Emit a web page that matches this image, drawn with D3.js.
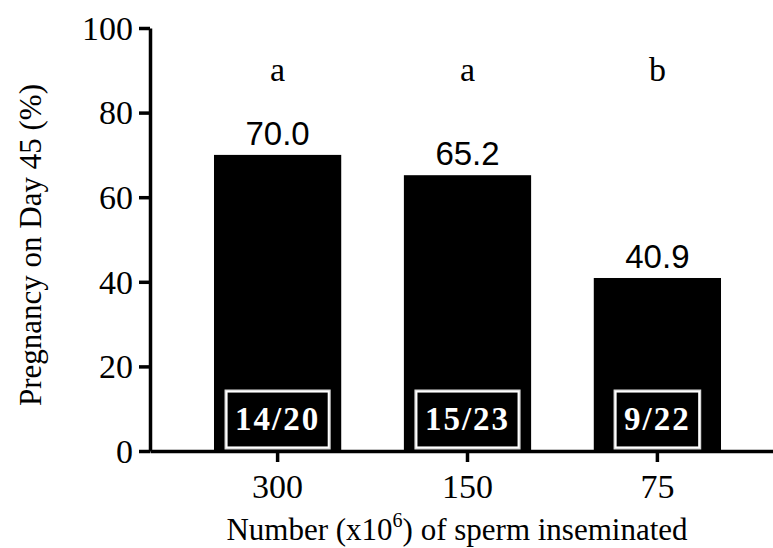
<!DOCTYPE html>
<html>
<head>
<meta charset="utf-8">
<script src="https://cdn.jsdelivr.net/npm/d3@7"></script>
<style>
  body { margin: 0; background: #fff; }
  svg { display: block; }
</style>
</head>
<body>
<svg id="chart" width="773" height="548"></svg>
<script>
// chart values
const groups = ['300', '150', '75'];
const pregnancy = [70.0, 65.2, 40.9];
const letters = ['a', 'a', 'b'];
const counts = ['14/20', '15/23', '9/22'];
const yTicks = [0, 20, 40, 60, 80, 100];

const serif = '"Liberation Serif", "Times New Roman", serif';
const sans = '"Liberation Sans", Arial, sans-serif';

const svg = d3.select('#chart');

const xScale = d3.scaleBand()
    .domain(groups)
    .range([150, 785])
    .paddingInner(0.33)
    .paddingOuter(0.337);

const yScale = d3.scaleLinear()
    .domain([0, 100])
    .range([451, 28]);

// bars
svg.append('g')
    .selectAll('rect')
    .data(groups)
    .enter()
    .append('rect')
    .attr('x', d => xScale(d))
    .attr('width', xScale.bandwidth())
    .attr('y', (d, i) => yScale(pregnancy[i]))
    .attr('height', (d, i) => yScale(0) - yScale(pregnancy[i]))
    .attr('fill', '#000');

// y axis
const yAxis = d3.axisLeft(yScale)
    .tickValues(yTicks)
    .tickSize(11)
    .tickPadding(6)
    .tickSizeOuter(0);
const yG = svg.append('g')
    .attr('transform', 'translate(150,0)')
    .call(yAxis);
yG.select('.domain').attr('stroke-width', 3.5);
yG.selectAll('.tick line').attr('stroke-width', 3.5);
yG.selectAll('.tick text')
    .attr('font-family', serif)
    .attr('font-size', 34)
    .attr('fill', '#000')
    .attr('dy', '0.33em');

// x axis
const xAxis = d3.axisBottom(xScale)
    .tickSize(11)
    .tickPadding(12)
    .tickSizeOuter(0);
const xG = svg.append('g')
    .attr('transform', 'translate(0,' + yScale(0) + ')')
    .call(xAxis);
xG.select('.domain').attr('stroke-width', 3.5);
xG.selectAll('.tick line').attr('stroke-width', 3.5);
xG.selectAll('.tick text')
    .attr('font-family', serif)
    .attr('font-size', 34)
    .attr('fill', '#000');

// value labels above bars
svg.append('g')
    .selectAll('text')
    .data(groups)
    .enter()
    .append('text')
    .attr('x', d => xScale(d) + xScale.bandwidth() / 2)
    .attr('y', (d, i) => yScale(pregnancy[i]) - 10)
    .attr('text-anchor', 'middle')
    .attr('font-family', sans)
    .attr('font-size', 33)
    .text((d, i) => pregnancy[i].toFixed(1));

// significance letters
svg.append('g')
    .selectAll('text')
    .data(groups)
    .enter()
    .append('text')
    .attr('x', d => xScale(d) + xScale.bandwidth() / 2)
    .attr('y', 81)
    .attr('text-anchor', 'middle')
    .attr('font-family', serif)
    .attr('font-size', 34)
    .text((d, i) => letters[i]);

// n/N boxes inside bars
const boxG = svg.append('g');
groups.forEach(function(g, i){
    const cx = xScale(g) + xScale.bandwidth() / 2;
    const txt = boxG.append('text')
        .attr('x', cx)
        .attr('y', 430)
        .attr('text-anchor', 'middle')
        .attr('font-family', serif)
        .attr('font-weight', 'bold')
        .attr('font-size', 33)
        .attr('letter-spacing', 2)
        .attr('fill', '#fff')
        .text(counts[i]);
    const w = txt.node().getComputedTextLength() + 18;
    boxG.insert('rect', 'text')
        .attr('x', cx - w / 2)
        .attr('y', 391)
        .attr('width', w)
        .attr('height', 57)
        .attr('fill', 'none')
        .attr('stroke', '#d8d8d8')
        .attr('stroke-width', 3);
    boxG.insert('rect', 'text')
        .attr('x', cx - w / 2 + 0.5)
        .attr('y', 391.5)
        .attr('width', w - 1)
        .attr('height', 56)
        .attr('fill', 'none')
        .attr('stroke', '#fff')
        .attr('stroke-width', 1.5);
});

// axis titles
svg.append('text')
    .attr('x', 457)
    .attr('y', 540)
    .attr('text-anchor', 'middle')
    .attr('font-family', serif)
    .attr('font-size', 31)
    .call(function(t){
        t.append('tspan').text('Number (x10');
        t.append('tspan').attr('font-size', 20).attr('dy', -13).text('6');
        t.append('tspan').attr('dy', 13).text(') of sperm inseminated');
    });

svg.append('text')
    .attr('transform', 'translate(41,245) rotate(-90)')
    .attr('text-anchor', 'middle')
    .attr('font-family', serif)
    .attr('font-size', 31)
    .text('Pregnancy on Day 45 (%)');
</script>
</body>
</html>
